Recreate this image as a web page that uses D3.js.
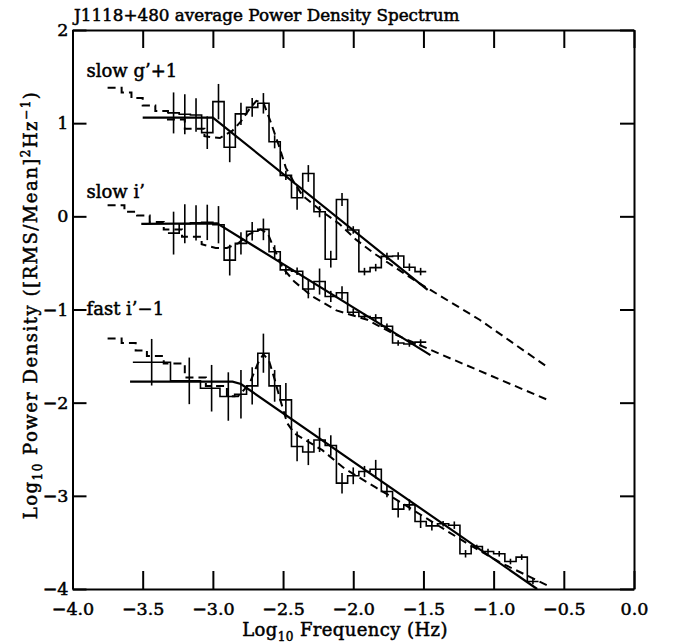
<!DOCTYPE html>
<html lang="en">
<head>
<meta charset="UTF-8">
<title>J1118+480 average Power Density Spectrum</title>
<script src="https://d3js.org/d3.v7.min.js"></script>
<style>
  body { margin: 0; background: #fff; }
  svg { display: block; }
  text { font-family: 'DejaVu Serif', serif; fill: #000; }
  .lbl { font-size: 18px; stroke: #000; stroke-width: 0.5px; }
  .title { font-size: 16.8px; stroke: #000; stroke-width: 0.5px; }
  .axis path, .axis line { stroke: #000; stroke-width: 2px; }
  .axis text { font-size: 17.5px; font-family: 'DejaVu Serif', serif; stroke: #000; stroke-width: 0.5px; }
  .hist { fill: none; stroke: #000; stroke-width: 1.6px; }
  .err { stroke: #000; stroke-width: 1.6px; }
  .fit { fill: none; stroke: #000; stroke-width: 2.2px; }
  .model { fill: none; stroke: #000; stroke-width: 2px; stroke-dasharray: 8,5; }
</style>
</head>
<body>
<svg width="678" height="643"></svg>
<script>
// log10 frequency bin centres of the slow light curves
const slowCentres = [-3.28,-3.20,-3.12,-3.04,-2.96,-2.88,-2.80,-2.72,-2.64,-2.56,-2.48,-2.40,
  -2.32,-2.24,-2.16,-2.08,-2.00,-1.92,-1.84,-1.76,-1.68,-1.60,-1.52];

// slow g' (+1 offset)
const gPower = [1.11,1.095,1.088,0.898,1.231,0.741,1.10,1.17,1.213,0.80,0.44,0.20,
  0.46,0.05,-0.46,0.18,-0.146,-0.593,-0.55,-0.43,-0.425,-0.546,-0.593];
const gErr = [0.22,0.215,0.18,0.175,0.19,0.16,0.12,0.10,0.11,0.07,0.05,0.13,
  0.09,0.06,0.09,0.07,0.04,0.04,0.04,0.04,0.04,0.04,0.04];
const gFit = [[-3.50,1.06],[-3.00,1.06],[-1.47,-0.79]];
const gModel = [[-3.75,1.38],[-3.65,1.33],[-3.58,1.27],[-3.50,1.19],[-3.41,1.13],[-3.32,1.04],
  [-3.20,0.94],[-3.06,0.86],[-2.95,0.84],[-2.86,0.92],[-2.80,1.02],[-2.74,1.15],[-2.69,1.24],
  [-2.64,1.22],[-2.59,1.02],[-2.53,0.76],[-2.48,0.52],[-2.42,0.36],[-2.36,0.22],[-2.22,0.05],
  [-2.10,-0.08],[-1.98,-0.25],[-1.85,-0.40],[-1.70,-0.55],[-1.55,-0.70],[-1.45,-0.79],
  [-1.10,-1.11],[-0.605,-1.63]];

// slow i'
const iPower = [-0.18,-0.08,-0.07,-0.065,-0.09,-0.47,-0.29,-0.16,-0.14,-0.38,-0.575,-0.59,
  -0.78,-0.70,-0.86,-0.82,-1.03,-1.075,-1.09,-1.18,-1.36,-1.37,-1.35];
const iErr = [0.23,0.21,0.19,0.19,0.20,0.165,0.12,0.10,0.116,0.07,0.05,0.04,
  0.10,0.14,0.06,0.07,0.04,0.03,0.04,0.03,0.03,0.03,0.03];
const iFit = [[-3.51,-0.08],[-2.97,-0.075],[-1.45,-1.49]];
const iModel = [[-3.75,0.12],[-3.63,0.05],[-3.54,0.01],[-3.45,-0.06],[-3.35,-0.14],[-3.22,-0.22],
  [-3.08,-0.30],[-2.98,-0.34],[-2.90,-0.34],[-2.82,-0.29],[-2.74,-0.19],[-2.66,-0.14],
  [-2.61,-0.18],[-2.56,-0.36],[-2.50,-0.56],[-2.42,-0.70],[-2.30,-0.85],[-2.12,-1.01],
  [-1.90,-1.11],[-1.70,-1.27],[-1.47,-1.42],[-1.30,-1.53],[-0.60,-1.98]];

// fast i' (-1 offset)
const fastCentres = [-3.436,-3.168,-3.009,-2.890,-2.80,-2.72,-2.64,-2.56,-2.48,-2.40,-2.32,
  -2.24,-2.16,-2.08,-2.00,-1.92,-1.84,-1.76,-1.68,-1.60,-1.52,-1.44,-1.36,-1.28,-1.20,
  -1.12,-1.04,-0.96,-0.88,-0.80,-0.72];
const fPower = [-1.566,-1.766,-1.845,-1.934,-1.909,-1.82,-1.469,-1.82,-1.97,-2.47,-2.53,
  -2.40,-2.46,-2.864,-2.785,-2.739,-2.714,-2.954,-3.143,-3.097,-3.275,-3.322,-3.30,-3.315,
  -3.622,-3.544,-3.597,-3.622,-3.705,-3.658,-3.919];
const fErr = [0.25,0.25,0.25,0.26,0.26,0.20,0.21,0.17,0.18,0.16,0.14,0.13,0.11,0.11,0.09,
  0.06,0.10,0.06,0.09,0.06,0.07,0.05,0.03,0.04,0.04,0.02,0.03,0.03,0.03,0.03,0.03];
const fFit = [[-3.59,-1.775],[-2.86,-1.775],[-2.80,-1.80],[-0.69,-4.0]];
const fModel = [[-3.75,-1.31],[-3.65,-1.36],[-3.55,-1.44],[-3.47,-1.50],[-3.35,-1.58],
  [-3.20,-1.73],[-3.05,-1.82],[-2.90,-1.93],[-2.82,-1.93],[-2.74,-1.80],[-2.68,-1.58],
  [-2.64,-1.48],[-2.60,-1.55],[-2.56,-1.75],[-2.52,-1.97],[-2.47,-2.22],[-2.42,-2.33],
  [-2.22,-2.51],[-2.06,-2.71],[-1.84,-2.91],[-1.65,-3.08],[-1.48,-3.24],[-1.20,-3.50],
  [-0.96,-3.71],[-0.62,-3.96]];

const xTicks = [-4.0,-3.5,-3.0,-2.5,-2.0,-1.5,-1.0,-0.5,0.0];
const yTicks = [-4,-3,-2,-1,0,1,2];

const svg = d3.select("svg");
const x = d3.scaleLinear().domain([-4, 0]).range([72.5, 634]);
const y = d3.scaleLinear().domain([-4, 2]).range([589, 30]);

const line = d3.line().x(d => x(d[0])).y(d => y(d[1]));

// axes, ticks point inward
svg.append("g").attr("class", "axis").attr("transform", "translate(0,589)")
  .call(d3.axisBottom(x).tickValues(xTicks).tickSize(-18).tickSizeOuter(0).tickPadding(14).tickFormat(d3.format(".1f")));
svg.append("g").attr("class", "axis").attr("transform", "translate(0,30)")
  .call(d3.axisTop(x).tickValues(xTicks).tickSize(-18).tickSizeOuter(0).tickFormat(""));
svg.append("g").attr("class", "axis").attr("transform", "translate(72.5,0)")
  .call(d3.axisLeft(y).tickValues(yTicks).tickSize(-14).tickSizeOuter(0).tickPadding(4).tickFormat(d3.format("d")));
svg.append("g").attr("class", "axis").attr("transform", "translate(634,0)")
  .call(d3.axisRight(y).tickValues(yTicks).tickSize(-14).tickSizeOuter(0).tickFormat(""));

// the model is binned (stepped) at low frequency, smooth above `stepTo`
function modelPath(model, stepTo) {
  const out = [];
  model.forEach((p, i) => {
    out.push(p);
    const nxt = model[i + 1];
    if (nxt && nxt[0] <= stepTo) out.push([nxt[0], p[1]]);
  });
  return line(out);
}

function drawSeries(centres, power, err, fit, model, stepTo) {
  const g = svg.append("g");
  const pts = centres.map((c, i) => [c, power[i]]);
  const n = centres.length;
  const first = [centres[0] - (centres[1] - centres[0]) / 2, power[0]];
  const last = [centres[n - 1] + (centres[n - 1] - centres[n - 2]) / 2, power[n - 1]];
  g.append("path").attr("class", "hist")
    .attr("d", d3.line().x(d => x(d[0])).y(d => y(d[1])).curve(d3.curveStep)([first, ...pts, last]));
  g.selectAll("line.err").data(pts).join("line").attr("class", "err")
    .attr("x1", d => x(d[0])).attr("x2", d => x(d[0]))
    .attr("y1", (d, i) => y(d[1] - err[i])).attr("y2", (d, i) => y(d[1] + err[i]));
  g.append("path").attr("class", "fit").attr("d", line(fit));
  g.append("path").attr("class", "model").attr("d", modelPath(model, stepTo));
}

drawSeries(slowCentres, gPower, gErr, gFit, gModel, -3.0);
drawSeries(slowCentres, iPower, iErr, iFit, iModel, -3.0);
drawSeries(fastCentres, fPower, fErr, fFit, fModel, -2.9);

// labels
svg.append("text").attr("class", "title").attr("x", 74).attr("y", 21)
  .text("J1118+480 average Power Density Spectrum");
svg.append("text").attr("class", "lbl").attr("x", x(-3.9)).attr("y", y(1.5)).text("slow g’+1");
svg.append("text").attr("class", "lbl").attr("x", x(-3.9)).attr("y", y(0.2)).text("slow i’");
svg.append("text").attr("class", "lbl").attr("x", x(-3.9)).attr("y", y(-1.06)).text("fast i’−1");

const xl = svg.append("text").attr("class", "lbl").attr("text-anchor", "middle")
  .attr("letter-spacing", 0.4).attr("x", 345).attr("y", 636);
xl.append("tspan").text("Log");
xl.append("tspan").attr("dy", 5).attr("font-size", 12).text("10");
xl.append("tspan").attr("dy", -5).text(" Frequency (Hz)");

const yl = svg.append("text").attr("class", "lbl").attr("text-anchor", "middle")
  .attr("letter-spacing", 1.5).attr("transform", "translate(37,305) rotate(-90)");
yl.append("tspan").text("Log");
yl.append("tspan").attr("dy", 5).attr("font-size", 12).text("10");
yl.append("tspan").attr("dy", -5).text(" Power Density ([RMS/Mean]");
yl.append("tspan").attr("dy", -7).attr("font-size", 12).text("2");
yl.append("tspan").attr("dy", 7).text("Hz");
yl.append("tspan").attr("dy", -7).attr("font-size", 12).text("−1");
yl.append("tspan").attr("dy", 7).text(")");
</script>
</body>
</html>
